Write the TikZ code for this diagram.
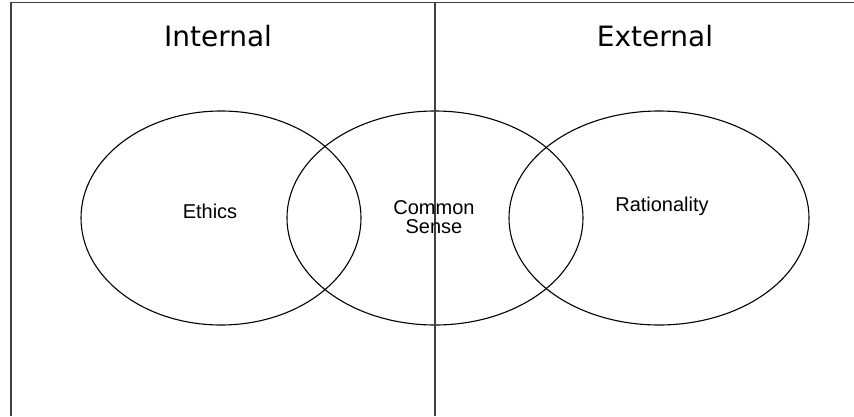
\documentclass[tikz,border=0pt]{standalone}
\usepackage{fontspec}
\setmainfont{Liberation Sans}
\newfontfamily\headfont{DejaVu Sans}
\usetikzlibrary{shapes.geometric}
\begin{document}
\begin{tikzpicture}[x=1pt, y=-1pt, set/.style={draw, ellipse, line width=1.1pt, inner sep=0pt}, frame/.style={draw=black!75, line width=1.6pt}, head/.style={font=\headfont\fontsize{28}{32}\selectfont}, lbl/.style={font=\fontsize{20}{20}\selectfont, align=center, inner sep=0pt}]
\useasboundingbox (0,0) rectangle (854,416);

\coordinate (tl) at (11,2.5);
\coordinate (tr) at (854,2.5);
\coordinate (bl) at (11,416);
\coordinate (tm) at (435,2.5);
\coordinate (bm) at (435,416);

\node (e) at (221,218) [set, minimum width=280pt, minimum height=214pt] {};
\node (c) at (435,218) [set, minimum width=296pt, minimum height=214pt] {};
\node (r) at (659,218) [set, minimum width=300pt, minimum height=214pt] {};

\draw[frame] (bl) -- (tl) -- (tr);
\draw[frame] (tm) -- (bm);

\node (int) at (218,36) [head] {Internal};
\node (ext) at (655,36) [head] {External};
\node (le) at (210,211) [lbl] {Ethics};
\node (lc) at (434,217) [lbl] {Common\\[-1pt]Sense};
\node (lr) at (662,206) [lbl] {Rationality};
\end{tikzpicture}
\end{document}
